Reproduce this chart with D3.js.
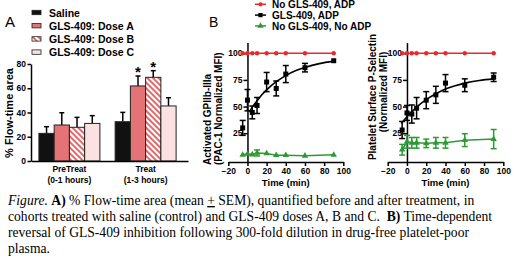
<!DOCTYPE html>
<html lang="en">
<head>
<meta charset="utf-8">
<script src="https://cdn.jsdelivr.net/npm/d3@7"></script>
<style>
  body { margin: 0; background: #fff; }
  svg { display: block; font-family: "Liberation Sans", Arial, sans-serif; }
  .ax path, .ax line { stroke: #000; stroke-width: 1.5; }
  .ax text { font-weight: bold; font-size: 8.5px; fill: #000; }
  .cap { font-family: "Liberation Serif", "Times New Roman", serif; font-size: 13.6px; fill: #000; white-space: pre; }
</style>
</head>
<body>
<script>
  // ---- Panel A data ----
  const groups = ['PreTreat', 'Treat'];
  const groupSub = ['(0-1 hours)', '(1-3 hours)'];
  const seriesNames = ['Saline', 'GLS-409: Dose A', 'GLS-409: Dose B', 'GLS-409: Dose C'];
  const saline = [22.8, 32.4];
  const doseA = [29.7, 61.9];
  const doseB = [27.8, 69.0];
  const doseC = [31.0, 45.4];
  const salineSem = [5.5, 7.7];
  const doseASem = [10.1, 8.2];
  const doseBSem = [8.2, 5.5];
  const doseCSem = [6.4, 6.8];
  const starred = [[false, false], [false, true], [false, true], [false, false]];
  const yTicksA = [0, 20, 40, 60, 80];

  // ---- Panel B data ----
  const times = [-5, 0, 5, 10, 20, 30, 40, 60, 90];
  const legendB = ['No GLS-409, ADP', 'GLS-409, ADP', 'No GLS-409, No ADP'];
  // left: activated GPIIb-IIIa
  const gpNoDrug = [100, 100, 100, 100, 100, 100, 100, 100, 100];
  const gpDrug = [30, 56, 44.5, 51, 73, 67, 80.5, 86.5, 93];
  const gpDrugErr = [7, 10, 6, 7.5, 9, 7, 8, 4, 0];
  const gpNoAdp = [4.7, 5.6, 5, 6.5, 6, 4.4, 4.4, 3.8, 4.7];
  const gpNoAdpErr = [0, 0, 0, 2.8, 0, 0, 0, 0, 0];
  const gpFitT = [2, 5, 10, 15, 20, 30, 40, 50, 60, 75, 90];
  const gpFitY = [45, 49.5, 55.4, 61, 65.6, 73.3, 79, 83.5, 86.7, 90.3, 92.6];
  // right: P-selectin
  const psNoDrug = [100, 100, 100, 100, 100, 100, 100, 100, 100];
  const psDrug = [28, 44, 43, 48.5, 56, 61, 72, 70, 77.5];
  const psDrugErr = [8, 7, 8.5, 10, 8, 8, 8, 6, 4];
  const psNoAdp = [9.5, 17, 16, 16, 15.5, 16, 16, 18.5, 19.5];
  const psNoAdpErr = [5, 6, 5, 5, 4, 5, 5, 6, 9];
  const psFitT = [-6, 0, 5, 10, 20, 30, 40, 50, 60, 75, 90];
  const psFitY = [34, 40.5, 45, 49.5, 56.5, 62, 66.5, 69.5, 72, 74.5, 76];
  const xTicksB = [-20, 0, 20, 40, 60, 80, 100];
  const yTicksB = [25, 50, 75, 100];

  const caption = [
    [['i', 'Figure.'], ['', ' '], ['b', 'A)'], ['', ' % Flow-time area (mean '], ['u', '+'], ['', ' SEM), quantified before and after treatment, in']],
    [['', 'cohorts treated with saline (control) and GLS-409 doses A, B and C.  '], ['b', 'B)'], ['', ' Time-dependent']],
    [['', 'reversal of GLS-409 inhibition following 300-fold dilution in drug-free platelet-poor']],
    [['', 'plasma.']]
  ];

  const red = '#e8282c', green = '#2f9a35';

  const svg = d3.select('body').append('svg')
    .attr('width', 520).attr('height', 270);

  const defs = svg.append('defs');
  const pat = defs.append('pattern').attr('id', 'stripes')
    .attr('patternUnits', 'userSpaceOnUse').attr('width', 4).attr('height', 4)
    .attr('patternTransform', 'rotate(-45)');
  pat.append('rect').attr('width', 4).attr('height', 4).attr('fill', '#fff');
  pat.append('rect').attr('width', 2).attr('height', 4).attr('fill', '#e26a6c');

  const fills = ['#111', '#e57275', 'url(#stripes)', '#fbe1e1'];
  const meansA = [saline, doseA, doseB, doseC];
  const semsA = [salineSem, doseASem, doseBSem, doseCSem];

  // ================= Panel A =================
  const xA = d3.scaleBand().domain(groups).range([31, 188]).paddingInner(0.2).paddingOuter(0.13).align(0.4);
  const xInner = d3.scaleBand().domain(seriesNames).range([0, xA.bandwidth()]);
  const yA = d3.scaleLinear().domain([0, 80]).range([161, 64]);

  svg.append('text').attr('x', 5).attr('y', 27).attr('font-size', 15).text('A');

  const legA = svg.append('g');
  seriesNames.forEach(function(s, i) {
    const ly = 12.5 + i * 13.2;
    legA.append('rect').attr('x', 32).attr('y', ly - 2.2).attr('width', 9).attr('height', 4.4)
      .attr('fill', fills[i]).attr('stroke', '#222').attr('stroke-width', 0.8);
    legA.append('text').attr('x', 49).attr('y', ly + 4).attr('font-size', 10.5)
      .attr('font-weight', 'bold').text(s);
  });

  const barG = svg.append('g');
  seriesNames.forEach(function(s, si) {
    groups.forEach(function(g, gi) {
      const bx = xA(g) + xInner(s);
      const bw = xInner.bandwidth();
      const v = meansA[si][gi];
      const top = meansA[si][gi] + semsA[si][gi];
      barG.append('line').attr('x1', bx + bw / 2).attr('x2', bx + bw / 2)
        .attr('y1', yA(v)).attr('y2', yA(top)).attr('stroke', '#000').attr('stroke-width', 1.5);
      barG.append('line').attr('x1', bx + bw / 2 - 2.5).attr('x2', bx + bw / 2 + 2.5)
        .attr('y1', yA(top)).attr('y2', yA(top)).attr('stroke', '#000').attr('stroke-width', 1.5);
      barG.append('rect').attr('x', bx).attr('y', yA(v)).attr('width', bw)
        .attr('height', yA(0) - yA(v)).attr('fill', fills[si])
        .attr('stroke', '#222').attr('stroke-width', 1);
      if (starred[si][gi]) {
        barG.append('text').attr('x', bx + bw / 2).attr('y', yA(top) + 1)
          .attr('text-anchor', 'middle').attr('font-size', 15).attr('font-weight', 'bold').text('*');
      }
    });
  });

  svg.append('g').attr('class', 'ax').attr('transform', 'translate(31,0)')
    .call(d3.axisLeft(yA).tickValues(yTicksA).tickSize(3.5).tickSizeOuter(0).tickPadding(1.5))
    .selectAll('text').attr('font-size', 8);
  svg.append('g').attr('class', 'ax').attr('transform', 'translate(0,161)')
    .call(d3.axisBottom(xA).tickSize(0).tickSizeOuter(0).tickFormat(''));

  groups.forEach(function(g, i) {
    const cx = xA(g) + xA.bandwidth() / 2;
    svg.append('text').attr('x', cx).attr('y', 172).attr('text-anchor', 'middle')
      .attr('font-size', 8.5).attr('font-weight', 'bold').text(g);
    svg.append('text').attr('x', cx).attr('y', 183).attr('text-anchor', 'middle')
      .attr('font-size', 8.5).attr('font-weight', 'bold').text(groupSub[i]);
  });

  svg.append('text').attr('transform', 'translate(12.5,113) rotate(-90)')
    .attr('text-anchor', 'middle').attr('font-size', 11).attr('font-weight', 'bold')
    .text('% Flow-time area');

  // ================= Panel B =================
  svg.append('text').attr('x', 209).attr('y', 27).attr('font-size', 14).text('B');

  const legB = svg.append('g');
  const legColors = [red, '#000', green];
  const legShapes = [d3.symbolCircle, d3.symbolSquare, d3.symbolTriangle];
  legendB.forEach(function(s, i) {
    const ly = 4.3 + i * 10.8;
    legB.append('line').attr('x1', 255).attr('x2', 266).attr('y1', ly).attr('y2', ly)
      .attr('stroke', legColors[i]).attr('stroke-width', 1.5);
    legB.append('path').attr('transform', 'translate(260.5,' + ly + ')')
      .attr('d', d3.symbol().type(legShapes[i]).size(i === 0 ? 14 : 18)()).attr('fill', legColors[i]);
    legB.append('text').attr('x', 272).attr('y', ly + 3.6).attr('font-size', 10)
      .attr('font-weight', 'bold').text(s);
  });

  function drawPanel(xr, noDrug, drug, drugErr, noAdp, noAdpErr, fitT, fitY, yLabels) {
    const x = d3.scaleLinear().domain([-20, 100]).range(xr);
    const y = d3.scaleLinear().domain([-2, 110]).range([162, 42.6]);
    const g = svg.append('g');

    g.append('g').attr('class', 'ax').attr('transform', 'translate(0,162)')
      .call(d3.axisBottom(x).tickValues(xTicksB).tickSize(4).tickSizeOuter(0).tickPadding(2));
    g.append('g').attr('class', 'ax').attr('transform', 'translate(' + x(0) + ',0)')
      .call(d3.axisLeft(y).tickValues(yTicksB).tickSize(4).tickSizeOuter(0).tickPadding(1));

    g.append('text').attr('x', (xr[0] + xr[1]) / 2).attr('y', 186).attr('text-anchor', 'middle')
      .attr('font-size', 9.5).attr('font-weight', 'bold').text('Time (min)');
    yLabels.forEach(function(l) {
      g.append('text').attr('transform', 'translate(' + l.x + ',' + l.y + ') rotate(-90)')
        .attr('text-anchor', l.anchor).attr('font-size', 10).attr('font-weight', 'bold').text(l.t);
    });

    function errBars(vals, errs, col) {
      vals.forEach(function(v, i) {
        if (errs[i] < 1.5) return;
        const cx = x(times[i]);
        g.append('line').attr('x1', cx).attr('x2', cx).attr('y1', y(v - errs[i])).attr('y2', y(v + errs[i]))
          .attr('stroke', col).attr('stroke-width', 1.5);
        [v - errs[i], v + errs[i]].forEach(function(e) {
          g.append('line').attr('x1', cx - 3).attr('x2', cx + 3).attr('y1', y(e)).attr('y2', y(e))
            .attr('stroke', col).attr('stroke-width', 1.5);
        });
      });
    }
    const line = d3.line().x(function(d) { return x(d[0]); }).y(function(d) { return y(d[1]); });

    // green: no ADP
    errBars(noAdp, noAdpErr, green);
    g.append('path').attr('d', line(times.map(function(t, i) { return [t, noAdp[i]]; })))
      .attr('fill', 'none').attr('stroke', green).attr('stroke-width', 1.5);
    g.selectAll(null).data(noAdp).enter().append('path')
      .attr('transform', function(d, i) { return 'translate(' + x(times[i]) + ',' + y(d) + ')'; })
      .attr('d', d3.symbol().type(d3.symbolTriangle).size(18)()).attr('fill', green);

    // black: drug + ADP with fitted curve
    errBars(drug, drugErr, '#000');
    g.append('path').attr('d', line.curve(d3.curveMonotoneX)(fitT.map(function(t, i) { return [t, fitY[i]]; })))
      .attr('fill', 'none').attr('stroke', '#000').attr('stroke-width', 1.6);
    line.curve(d3.curveLinear);
    g.selectAll(null).data(drug).enter().append('rect')
      .attr('x', function(d, i) { return x(times[i]) - 2.5; })
      .attr('y', function(d) { return y(d) - 2.5; })
      .attr('width', 5).attr('height', 5).attr('fill', '#000');

    // red: no drug + ADP
    g.append('path').attr('d', line(times.map(function(t, i) { return [t, noDrug[i]]; })))
      .attr('fill', 'none').attr('stroke', red).attr('stroke-width', 1.5);
    g.selectAll(null).data(noDrug).enter().append('circle')
      .attr('cx', function(d, i) { return x(times[i]); })
      .attr('cy', function(d) { return y(d); })
      .attr('r', 2.2).attr('fill', red);
  }

  drawPanel([228.3, 343.3], gpNoDrug, gpDrug, gpDrugErr, gpNoAdp, gpNoAdpErr, gpFitT, gpFitY, [
    {t: 'Activated GPIIb-IIIa', x: 210.5, y: 165, anchor: 'start'},
    {t: '(PAC-1 Normalized MFI)', x: 222, y: 165, anchor: 'start'}
  ]);
  drawPanel([387.7, 503.3], psNoDrug, psDrug, psDrugErr, psNoAdp, psNoAdpErr, psFitT, psFitY, [
    {t: 'Platelet Surface P-Selectin', x: 375.5, y: 97, anchor: 'middle'},
    {t: '(Normalized MFI)', x: 387, y: 92, anchor: 'middle'}
  ]);

  // ================= Caption =================
  caption.forEach(function(parts, li) {
    const t = svg.append('text').attr('class', 'cap').attr('x', 8).attr('y', 205 + li * 16);
    parts.forEach(function(p) {
      const ts = t.append('tspan').text(p[1]);
      if (p[0] === 'i') ts.attr('font-style', 'italic');
      if (p[0] === 'b') ts.attr('font-weight', 'bold');
      if (p[0] === 'u') ts.attr('text-decoration', 'underline');
    });
  });
</script>
</body>
</html>
